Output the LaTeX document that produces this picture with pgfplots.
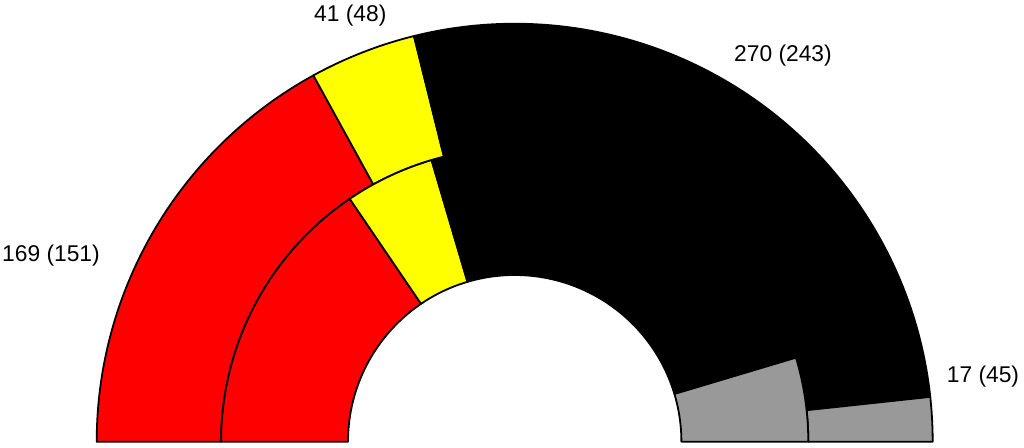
\documentclass[border=0pt]{standalone}
\usepackage{pgfplots}
\pgfplotsset{compat=1.18}
\usepackage{fontspec}
\setmainfont{Liberation Sans}
\definecolor{seatred}{RGB}{255,0,0}
\definecolor{seatyellow}{RGB}{255,255,0}
\definecolor{seatblack}{RGB}{0,0,0}
\definecolor{seatgray}{RGB}{153,153,153}
% #1 colour, #2 inner radius, #3 outer radius, #4 cumulative seats before, #5 cumulative seats after, #6 total seats
\newcommand{\sector}[6]{%
\addplot[fill=#1, draw=black, line width=0.9pt, line join=round, samples=202, domain=0:2.01, variable=\t]
 ({514.7 + ((\t<1.005) ? #3 : #2)*cos(((\t<1.005) ? (180-#4/#6*180 + min(\t,1)*((#4-#5)/#6*180)) : (180-#5/#6*180 + min(max(\t-1.01,0),1)*((#5-#4)/#6*180))))},
  {5.3 + ((\t<1.005) ? #3 : #2)*sin(((\t<1.005) ? (180-#4/#6*180 + min(\t,1)*((#4-#5)/#6*180)) : (180-#5/#6*180 + min(max(\t-1.01,0),1)*((#5-#4)/#6*180))))}) -- cycle;
}
\begin{document}
\begin{tikzpicture}
\begin{axis}[
  width=512pt, height=223.5pt, scale only axis,
  xmin=0, xmax=1024, ymin=0, ymax=447,
  axis line style={draw=none}, ticks=none, clip=false,
]
% outer ring: 169, 41, 270, 17 (total 497)
\sector{seatred}{293.6}{418}{0}{169}{497}
\sector{seatyellow}{293.6}{418}{169}{210}{497}
\sector{seatblack}{293.6}{418}{210}{480}{497}
\sector{seatgray}{293.6}{418}{480}{497}{497}
% inner ring: 151, 48, 243, 45 (total 487)
\sector{seatred}{166.7}{293.6}{0}{151}{487}
\sector{seatyellow}{166.7}{293.6}{151}{199}{487}
\sector{seatblack}{166.7}{293.6}{199}{442}{487}
\sector{seatgray}{166.7}{293.6}{442}{487}{487}
\node[anchor=base, inner sep=0pt, font=\fontsize{11.4}{13}\selectfont] at (axis cs:350.3,425.3) {41 (48)};
\node[anchor=base, inner sep=0pt, font=\fontsize{11.4}{13}\selectfont] at (axis cs:783,386) {270 (243)};
\node[anchor=base, inner sep=0pt, font=\fontsize{11.4}{13}\selectfont] at (axis cs:51,186) {169 (151)};
\node[anchor=base, inner sep=0pt, font=\fontsize{11.4}{13}\selectfont] at (axis cs:983,64.3) {17 (45)};
\end{axis}
\end{tikzpicture}
\end{document}
